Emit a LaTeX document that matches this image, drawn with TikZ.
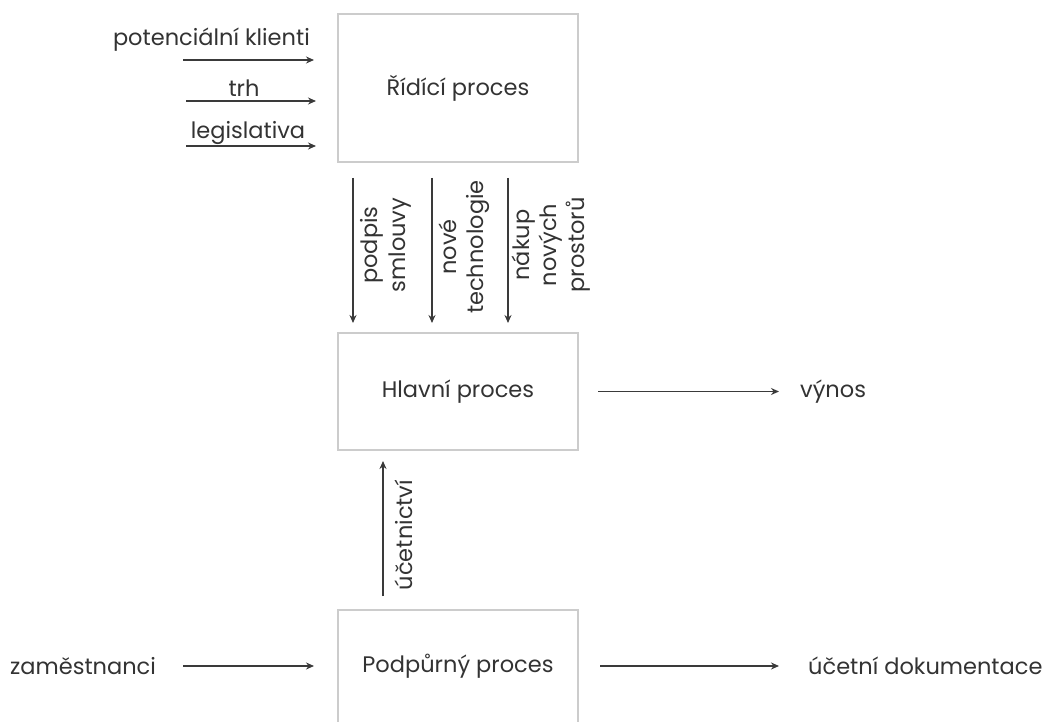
\documentclass[tikz,border=0pt]{standalone}
\usepackage{fontspec}
\setmainfont{Poppins}
\usetikzlibrary{arrows.meta}
\definecolor{txt}{HTML}{333333}
\definecolor{arr}{HTML}{3A3A3A}
\definecolor{boxc}{HTML}{CCCCCC}
\tikzset{
  procbox/.style={draw=boxc, line width=1.3pt, minimum width=240pt, inner sep=0pt},
  plain/.style={text=txt, font=\fontsize{22.5}{27.5}\selectfont, inner sep=0pt},
  vlab/.style={plain, rotate=90, align=center},
  conn/.style={draw=arr, line width=1.4pt, -{Stealth[length=8pt,width=7pt]}},
}
\begin{document}
\begin{tikzpicture}[x=1pt,y=-1pt]
\clip (0,0) rectangle (1050,722);
\fill[white] (0,0) rectangle (1050,722);
% boxes
\node[procbox, minimum height=148pt] (ridici) at (458,88) {};
\node[plain] (ridicit) at (458,88) {Řídící proces};
\node[procbox, minimum height=117pt] (hlavni) at (458,391.5) {};
\node[plain] (hlavnit) at (458,391.5) {Hlavní proces};
\node[procbox, minimum height=140pt] (podp) at (458,680) {};
\node[plain] (podpt) at (458,666) {Podpůrný proces};
% left inputs
\node[plain, anchor=east] (pk) at (310,40) {potenciální klienti};
\node[plain] (trh) at (244,88) {trh};
\node[plain] (leg) at (248,133) {legislativa};
\coordinate (a1s) at (183,60); \coordinate (a1e) at (314,60);
\coordinate (a2s) at (186,101); \coordinate (a2e) at (316,101);
\coordinate (a3s) at (186,146); \coordinate (a3e) at (316,146);
\draw[conn] (a1s) -- (a1e);
\draw[conn] (a2s) -- (a2e);
\draw[conn] (a3s) -- (a3e);
% vertical arrows
\coordinate (v1s) at (353,178); \coordinate (v1e) at (353,323);
\coordinate (v2s) at (432,178); \coordinate (v2e) at (432,323);
\coordinate (v3s) at (508,178); \coordinate (v3e) at (508,323);
\draw[conn] (v1s) -- (v1e);
\draw[conn] (v2s) -- (v2e);
\draw[conn] (v3s) -- (v3e);
\node[vlab] (l1) at (386,245) {podpis\\smlouvy};
\node[vlab] (l2) at (464,247) {nové\\technologie};
\node[vlab] (l3) at (551,245) {nákup\\nových\\prostorů};
% hlavni -> vynos
\node[plain, anchor=west] (vynos) at (800,391.5) {výnos};
\coordinate (h1s) at (598,391.5); \coordinate (h1e) at (779,391.5);
\draw[conn] (h1s) -- (h1e);
% ucetnictvi
\coordinate (u1s) at (383,596); \coordinate (u1e) at (383,461);
\draw[conn] (u1s) -- (u1e);
\node[vlab] (ucl) at (404,535) {účetnictví};
% bottom row
\node[plain, anchor=west] (zam) at (10,666) {zaměstnanci};
\coordinate (z1s) at (183,666); \coordinate (z1e) at (314,666);
\draw[conn] (z1s) -- (z1e);
\coordinate (p1s) at (600,666); \coordinate (p1e) at (779,666);
\draw[conn] (p1s) -- (p1e);
\node[plain, anchor=west] (ucd) at (808,666) {účetní dokumentace};
\end{tikzpicture}
\end{document}
